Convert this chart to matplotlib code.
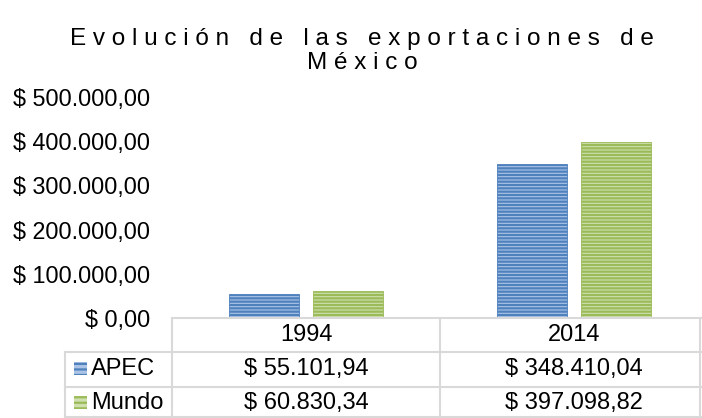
import matplotlib
matplotlib.use("Agg")
import matplotlib.pyplot as plt
from matplotlib.patches import Rectangle
from matplotlib.lines import Line2D
from matplotlib.ticker import FuncFormatter

plt.rcParams['font.family'] = ['Liberation Sans', 'DejaVu Sans']
plt.rcParams['hatch.linewidth'] = 1.6

#### Datos ####
years = ['1994', '2014']
series = ['APEC', 'Mundo']
apec = [55101.94, 348410.04]
mundo = [60830.34, 397098.82]
title = "Evolución de las exportaciones de\nMéxico"

hatch_col = ['#4F81BD', '#9BBB59']
face_col = ['#ABC4E6', '#CFE0AE']
grid_col = '#D9D9D9'

W, H = 702, 418


def money(v):
    s = "{:,.2f}".format(v)
    s = s.replace(',', 'X').replace('.', ',').replace('X', '.')
    return "$ " + s


def fx(px):
    return px / W


def fy(py):
    return 1 - py / H


def spaced(text):
    # letras separadas como en el titulo de Excel
    lines = []
    for line in text.split('\n'):
        words = [' '.join(w) for w in line.split(' ')]
        lines.append('   '.join(words))
    return '\n'.join(lines)


fig = plt.figure(figsize=(W / 100, H / 100), dpi=100)
fig.patch.set_facecolor('white')

ax = fig.add_axes([fx(172), fy(318), fx(702) - fx(172), fy(97) - fy(318)])

x = list(range(len(years)))
bw = 0.261
off = 0.158
for i, vals in enumerate([apec, mundo]):
    pos = [k + (-off if i == 0 else off) for k in x]
    ax.bar(pos, vals, width=bw, color=face_col[i], edgecolor=hatch_col[i],
           hatch='-----', linewidth=0.6, label=series[i])

ax.set_xlim(-0.5, (702 - 306) / 268)
ax.set_ylim(0, 500000)
ax.set_yticks([0, 100000, 200000, 300000, 400000, 500000])
ax.yaxis.set_major_formatter(FuncFormatter(lambda v, p: money(v)))
ax.tick_params(axis='y', length=0, pad=16, labelsize=16.8)
ax.set_xticks([])
for s in ['top', 'left', 'right']:
    ax.spines[s].set_visible(False)
ax.spines['bottom'].set_color(grid_col)
ax.spines['bottom'].set_linewidth(1.5)

fig.text(fx(362), fy(51), spaced(title), ha='center', va='center',
         fontsize=17.5, linespacing=1.15)

# tabla de datos
def hline(py, x0, x1):
    fig.add_artist(Line2D([fx(x0), fx(x1)], [fy(py), fy(py)], color=grid_col,
                          lw=1.5, transform=fig.transFigure))


def vline(px, y0, y1):
    fig.add_artist(Line2D([fx(px), fx(px)], [fy(y0), fy(y1)], color=grid_col,
                          lw=1.5, transform=fig.transFigure))


hline(352, 65, 702)
hline(387, 65, 702)
hline(417, 65, 702)
vline(65, 352, 418)
vline(172, 318, 418)
vline(440, 318, 418)
vline(700, 318, 418)

col_x = [306, 574]
for j, yr in enumerate(years):
    fig.text(fx(col_x[j]), fy(335), yr, ha='center', va='center', fontsize=17)

row_y = [369, 403]
for i, vals in enumerate([apec, mundo]):
    fig.add_artist(Rectangle((fx(74), fy(row_y[i] + 6)), fx(13), fy(0) - fy(13),
                             transform=fig.transFigure, facecolor=face_col[i],
                             edgecolor=hatch_col[i], hatch='---', linewidth=0))
    fig.text(fx(91), fy(row_y[i]), series[i], ha='left', va='center', fontsize=17)
    for j, v in enumerate(vals):
        fig.text(fx(col_x[j]), fy(row_y[i]), money(v), ha='center', va='center',
                 fontsize=17)

fig.savefig('out.png', dpi=100)
